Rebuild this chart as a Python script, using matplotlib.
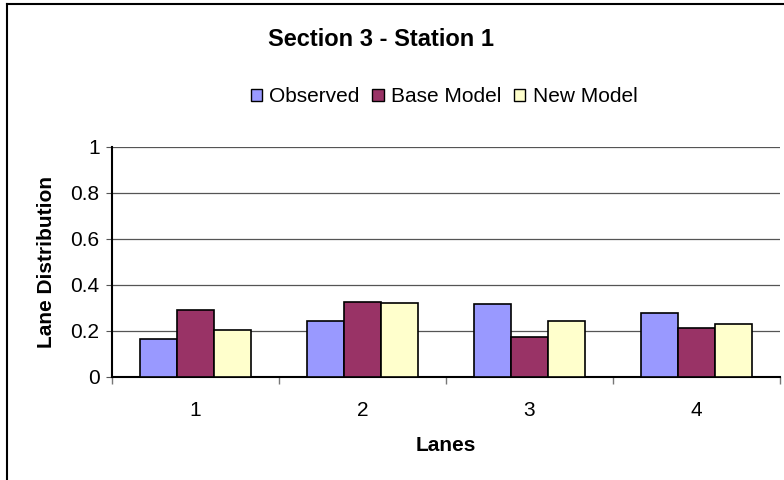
import matplotlib
matplotlib.use("Agg")
import matplotlib.pyplot as plt
from matplotlib.lines import Line2D
from matplotlib.patches import Patch
import numpy as np

plt.rcParams['font.family'] = ['Liberation Sans', 'DejaVu Sans']

lanes = ["1", "2", "3", "4"]
observed = [0.164, 0.243, 0.316, 0.278]
base_model = [0.293, 0.328, 0.172, 0.214]
new_model = [0.206, 0.322, 0.242, 0.229]
series_names = ["Observed", "Base Model", "New Model"]
colors = ["#9999FF", "#993366", "#FFFFCC"]
y_ticks = [0, 0.2, 0.4, 0.6, 0.8, 1]
y_tick_labels = ["0", "0.2", "0.4", "0.6", "0.8", "1"]

fig = plt.figure(figsize=(7.84, 4.8), dpi=100)
W, H = 784, 480

# outer chart frame (left and top edges visible)
fig.add_artist(Line2D([7 / W, 7 / W], [0, 1 - 4 / H], transform=fig.transFigure,
                      color="black", lw=1.5))
fig.add_artist(Line2D([7 / W, 1], [1 - 4 / H, 1 - 4 / H], transform=fig.transFigure,
                      color="black", lw=1.5))

ax = fig.add_axes([112 / W, (H - 377) / H, 668 / W, 230 / H])

x = np.arange(len(lanes))
width = 1 / 4.5
for i, (vals, name, c) in enumerate(zip([observed, base_model, new_model], series_names, colors)):
    ax.bar(x + (i - 1) * width, vals, width, color=c, edgecolor="black",
           linewidth=1.2, label=name, zorder=3)

ax.set_xlim(-0.5, len(lanes) - 0.5)
ax.set_ylim(0, 1)
ax.set_yticks(y_ticks)
ax.set_yticklabels(y_tick_labels, fontsize=15)
ax.yaxis.grid(True, color="#555555", linewidth=0.9, zorder=0)
ax.set_axisbelow(True)

# category boundaries carry the tick marks, labels sit at the centers
ax.set_xticks(np.arange(-0.5, len(lanes)), minor=False)
ax.set_xticklabels([])
ax.set_xticks(x, minor=True)
ax.set_xticklabels(lanes, minor=True, fontsize=15)
ax.tick_params(axis="x", which="major", length=5, color="#777777", width=1)
ax.tick_params(axis="x", which="minor", length=0, pad=17)
ax.tick_params(axis="y", length=4, color="#555555", pad=5)

for s in ["top", "right"]:
    ax.spines[s].set_visible(False)
ax.spines["left"].set_linewidth(1.5)
ax.spines["bottom"].set_linewidth(1.5)

ax.set_xlabel("Lanes", fontsize=15, fontweight="bold", labelpad=12)
ax.set_ylabel("Lane Distribution", fontsize=15, fontweight="bold", labelpad=10)

fig.text(268 / W, 1 - 40 / H, "Section 3 - Station 1", ha="left", va="center",
         fontsize=17, fontweight="bold")

handles = [Patch(facecolor=c, edgecolor="black", linewidth=1.0) for c in colors]
fig.legend(handles, series_names, loc="center", bbox_to_anchor=(444 / W, 1 - 97 / H),
           ncol=3, frameon=False, fontsize=15, handlelength=0.55, handleheight=0.55,
           handletextpad=0.35, columnspacing=0.6)

fig.savefig("out.png", dpi=100)
